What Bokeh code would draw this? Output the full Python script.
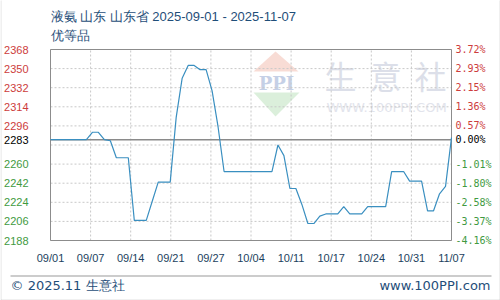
import numpy as np
import pandas as pd
from bokeh.plotting import figure
from bokeh.models import Range1d, Label, ColumnDataSource, BoxAnnotation, PolyAnnotation
from bokeh.core.properties import value
from bokeh.embed import file_html
from bokeh.resources import INLINE

# ---------------- data ----------------
title_text = "液氨 山东 山东省 2025-09-01 - 2025-11-07"
subtitle_text = "优等品"
footer_left = "© 2025.11 生意社"
footer_right = "www.100PPI.com"

dates = list(pd.date_range("2025-09-01", "2025-11-07", freq="D").strftime("%Y-%m-%d"))
prices = [2283, 2283, 2283, 2283, 2283, 2283, 2283, 2290, 2290, 2283,
          2282, 2266, 2266, 2266, 2207, 2207, 2207, 2225, 2243, 2243,
          2243, 2304, 2341, 2353, 2353, 2349, 2349, 2329, 2295, 2253,
          2253, 2253, 2253, 2253, 2253, 2253, 2253, 2253, 2278, 2268,
          2237, 2237, 2222, 2204, 2204, 2211, 2213, 2213, 2213, 2220,
          2213, 2213, 2213, 2220, 2220, 2220, 2220, 2253, 2253, 2253,
          2244, 2244, 2244, 2216, 2216, 2232, 2239, 2285]
base_price = 2283
x_tick_labels = ["09/01", "09/07", "09/14", "09/21", "09/27", "10/04",
                 "10/11", "10/17", "10/24", "10/31", "11/07"]
y_grid_ticks = [2188, 2206, 2224, 2242, 2260, 2278, 2296, 2314, 2332, 2350, 2368]
y_label_ticks = [2188, 2206, 2224, 2242, 2260, 2283, 2296, 2314, 2332, 2350, 2368]

# ---------------- layout constants ----------------
W, H = 500, 300
FL, FR, FT, FB = 50, 451, 49, 240           # plot area in canvas pixels
n_days = len(prices) - 1
ymin, ymax = y_grid_ticks[0], y_grid_ticks[-1]
step = n_days / (len(x_tick_labels) - 1)
x_ticks = [i * step for i in range(len(x_tick_labels))]
x = list(range(len(prices)))

ppx = (FR - FL) / n_days
ppy = (FB - FT) / (ymax - ymin)
x_range = Range1d(-FL / ppx, n_days + (W - FR) / ppx)
y_range = Range1d(ymin - (H - FB) / ppy, ymax + FT / ppy)

def sx(cx):
    return cx

def sy(cy):
    return H - cy

p = figure(width=W, height=H, output_backend="svg", toolbar_location=None,
           x_range=x_range, y_range=y_range, x_axis_location=None, y_axis_location=None,
           min_border=0)
p.title.visible = False
p.grid.visible = False
p.background_fill_color = "white"
p.border_fill_color = "white"
p.outline_line_color = None

# ---------------- watermark ----------------
p.add_layout(PolyAnnotation(xs=[sx(275), sx(298), sx(253)], ys=[sy(51), sy(71), sy(71)],
                            xs_units="screen", ys_units="screen", fill_color="#f6d3ca",
                            fill_alpha=0.8, line_alpha=0, level="underlay"))
p.add_layout(PolyAnnotation(xs=[sx(253), sx(299), sx(275)], ys=[sy(92), sy(92), sy(116)],
                            xs_units="screen", ys_units="screen", fill_color="#d2ebd2",
                            fill_alpha=0.8, line_alpha=0, level="underlay"))
p.add_layout(Label(x=sx(276), y=sy(83), x_units="screen", y_units="screen", text="PPI",
                   text_font="DejaVu Serif", text_font_style="bold", text_font_size="18px",
                   text_color="#c5d0e6", text_align="center", text_baseline="middle",
                   level="underlay"))
for ch, cx in zip("生意社", [340, 385, 430]):
    p.add_layout(Label(x=sx(cx), y=sy(74), x_units="screen", y_units="screen", text=ch,
                       text_font="Noto Sans CJK SC", text_font_size="32px",
                       text_color="#dcdfe9", text_align="center", text_baseline="middle",
                       level="underlay"))
p.add_layout(Label(x=sx(386), y=sy(107), x_units="screen", y_units="screen",
                   text="WWW.100PPI.COM", text_font="DejaVu Sans", text_font_size="13px",
                   text_color="#e2e4ec", text_align="center", text_baseline="middle",
                   level="underlay"))

# ---------------- grid ----------------
p.segment(x0=x_ticks, x1=x_ticks, y0=[ymin] * len(x_ticks), y1=[ymax] * len(x_ticks),
          line_color="#c8c8c8", line_dash="2 2", line_width=1)
p.segment(x0=[0] * len(y_grid_ticks), x1=[n_days] * len(y_grid_ticks), y0=y_grid_ticks,
          y1=y_grid_ticks, line_color="#c8c8c8", line_dash="2 2", line_width=1)
p.quad(left=[0], right=[n_days], bottom=[ymin], top=[ymax], fill_alpha=0,
       line_color="#8c8c8c", line_width=1)

# ---------------- data marks ----------------
p.segment(x0=[0], x1=[n_days], y0=[base_price], y1=[base_price], line_color="#8a8a8a",
          line_width=1.5)
p.line(x, prices, line_color="#3a8fc0", line_width=1.2)

# ---------------- axis labels ----------------
def col(v):
    if v > base_price:
        return "#cd3c3c"
    if v < base_price:
        return "#3f9a3f"
    return "#000000"

colors = [col(v) for v in y_label_ticks]
left_src = ColumnDataSource(dict(x=[0] * len(y_label_ticks), y=y_label_ticks,
                                 text=[str(v) for v in y_label_ticks], color=colors))
p.text(x="x", y="y", text="text", source=left_src, text_color="color", x_offset=-22,
       text_align="right", text_baseline="middle", text_font=value("Liberation Sans"),
       text_font_size="11px")
pct = ["%.2f%%" % ((v / base_price - 1) * 100) for v in y_label_ticks]
right_src = ColumnDataSource(dict(x=[n_days] * len(y_label_ticks), y=y_label_ticks,
                                  text=pct, color=colors))
p.text(x="x", y="y", text="text", source=right_src, text_color="color", x_offset=4,
       text_align="left", text_baseline="middle", text_font=value("DejaVu Sans Mono"),
       text_font_size="10px")
p.text(x=x_ticks, y=[ymin] * len(x_ticks), text=x_tick_labels, y_offset=17,
       text_align="center", text_baseline="middle", text_font=value("Liberation Sans"),
       text_font_size="11px", text_color="#1c3f5e")

# ---------------- titles & footer ----------------
p.add_layout(Label(x=sx(50), y=sy(16), x_units="screen", y_units="screen", text=title_text,
                   text_font="Liberation Sans", text_font_size="13px", text_color="#1f4e79",
                   text_baseline="middle"))
p.add_layout(Label(x=sx(50), y=sy(35), x_units="screen", y_units="screen", text=subtitle_text,
                   text_font="Liberation Sans", text_font_size="13px", text_color="#1f4e79",
                   text_baseline="middle"))
p.add_layout(BoxAnnotation(left=sx(10), right=sx(491), top=sy(275), bottom=sy(276),
                           left_units="screen", right_units="screen", top_units="screen",
                           bottom_units="screen", fill_color="#9a9a9a", fill_alpha=1,
                           line_alpha=0))
p.add_layout(Label(x=sx(10), y=sy(285), x_units="screen", y_units="screen", text=footer_left,
                   text_font="DejaVu Sans", text_font_size="13px", text_color="#1f4e79",
                   text_baseline="middle"))
p.add_layout(Label(x=sx(490), y=sy(285), x_units="screen", y_units="screen", text=footer_right,
                   text_font="DejaVu Sans", text_font_size="13px", text_color="#1f4e79",
                   text_baseline="middle", text_align="right"))
p.add_layout(BoxAnnotation(left=sx(0.5), right=sx(499.5), top=sy(-2), bottom=sy(299.5),
                           left_units="screen", right_units="screen", top_units="screen",
                           bottom_units="screen", fill_alpha=0, line_color="#9a9a9a",
                           line_width=1))

open("out.html", "w").write(file_html(p, INLINE))
